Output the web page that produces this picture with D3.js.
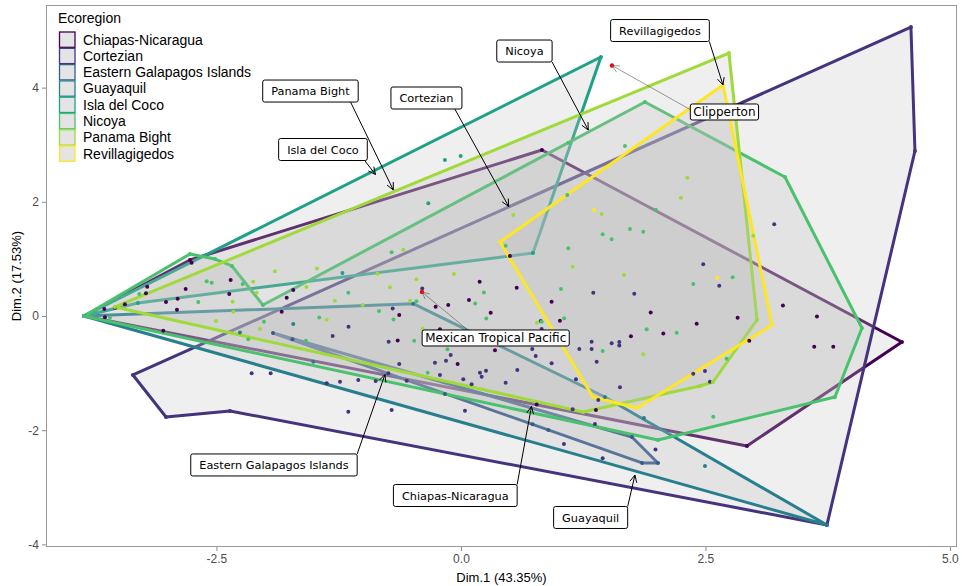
<!DOCTYPE html>
<html><head><meta charset="utf-8">
<script src="https://cdn.jsdelivr.net/npm/d3@7/dist/d3.min.js"></script>
<style>body{margin:0;background:#fff}</style>
</head><body>
<svg id="chart" width="962" height="586"></svg>
<script>
// Ecoregions (factor order) and their viridis colours
const ecoregions = ["Chiapas-Nicaragua","Cortezian","Eastern Galapagos Islands","Guayaquil","Isla del Coco","Nicoya","Panama Bight","Revillagigedos"];
const ecoColors  = ["#440154","#46337E","#365C8D","#277F8E","#1FA187","#4AC16D","#9FDA3A","#FDE725"];

// Hull outlines per ecoregion (Dim.1, Dim.2)
const hullChiapas   = [[-3.855,0],[-2.771,0.981],[0.828,2.907],[4.509,-0.455],[2.924,-2.277]];
const hullCortezian = [[-3.354,-1.033],[-3.016,-1.769],[-2.362,-1.664],[3.742,-3.660],[4.642,2.890],[4.601,5.061]];
const hullEGalapagos= [[-1.922,-0.298],[1.748,-2.119],[2.014,-2.574],[1.851,-2.574]];
const hullGuayaquil = [[-3.855,0],[-0.489,0.215],[1.472,-1.419],[3.742,-3.660]];
const hullCoco      = [[-3.855,0],[1.431,4.536],[0.736,1.103],[-3.303,0.228]];
const hullNicoya    = [[-3.855,0],[-2.771,1.086],[-2.515,0.998],[-2.342,0.876],[-2.025,0.193],[1.881,3.748],[3.313,2.434],[4.100,-0.210],[3.824,-1.419],[2.014,-2.172]];
const hullPanama    = [[-3.538,0.158],[2.740,4.606],[3.027,-0.070],[2.577,-1.156],[2.444,-1.226],[1.247,-1.681]];
const hullRevilla   = [[0.399,1.296],[2.679,4.046],[3.180,-0.158],[1.800,-1.611],[1.350,-1.419]];

// Individual sites per ecoregion (Dim.1, Dim.2)
const ptsChiapas = [[-3.855,0],[-2.771,0.981],[0.828,2.907],[4.509,-0.455],[2.924,-2.277],
 [-3.647,0.123],[-3.538,0.145],[-3.436,0.205],[-3.640,-0.023],[-3.208,0.513],[-3.221,0.398],[-2.754,0.933],[-2.815,0.473],
 [-3.016,0.245],[-2.897,0.303],[-2.904,0.110],[-2.355,0.630],[-2.369,0.385],[-3.044,-0.257],[-1.715,0.455],[-1.782,0.320],
 [-1.833,0.075],[-0.631,0.018],[-0.647,-0.429],[0.191,0.601],[0.082,0.280],[-0.130,0.193],[-0.259,0.163],[0.304,0.058],
 [0.348,-0.601],[0.501,1.051],[0.570,0.496],[0.927,0.250],[1.012,-0.082],[-0.215,-0.233],[-0.034,-0.841],[1.940,0.061],
 [3.292,0.184],[3.640,-0.009],[2.829,-0.030],[2.410,-0.137],[2.069,-0.306],[1.738,-0.356],[3.612,-0.538],[3.807,-0.538],
 [2.948,-0.433],[1.380,-1.646],[0.774,-1.550]];
const ptsCortezian = [[-3.354,-1.033],[-3.016,-1.769],[-2.362,-1.664],[3.742,-3.660],[4.642,2.890],[4.601,5.061],
 [-0.396,0.482],[1.353,0.408],[1.541,-0.478],[1.619,-0.517],[1.619,-0.455],[1.336,-0.450],[1.336,-0.578],[1.210,-0.578],
 [0.815,-0.088],[0.825,-0.228],[0.729,-0.578],[0.764,-0.701],[-0.739,-0.450],[-1.150,-0.187],[-1.312,-0.350],[-0.698,0.131],
 [3.203,1.606],[2.477,0.905],[2.641,0.531],[1.772,0.391],[2.375,-1.011],[2.495,-0.963],[2.546,-1.151],[1.626,-1.249],
 [1.989,-2.338],[1.449,-2.492],[-2.140,-1.003],[-1.946,-1.003],[-1.373,-1.179],[-1.237,-1.151],[-1.152,-1.676],[-1.050,-1.121],
 [-0.872,-1.138],[-0.743,-1.003],[-0.709,-1.646],[-0.555,-1.133],[-0.631,-0.841],[-0.266,-0.818],[-0.215,-1.033],[-0.153,-0.783],
 [-0.105,-0.683],[0.024,-1.109],[0.109,-1.196],[0.194,-0.993],[0.212,-1.063],[0.256,-0.958],[0.457,-1.168],[0.576,-0.946],
 [0.041,-1.658],[0.927,-0.828],[1.388,-0.800],[1.176,-1.109],[1.404,-1.471],[1.370,-1.891],[1.142,-1.634],[1.053,-2.242]];
const ptsEGalapagos = [[-1.922,-0.298],[1.748,-2.119],[2.014,-2.574],[1.851,-2.574],
 [-1.723,-0.406],[-0.164,-1.366],[0.733,-1.897],[0.893,-1.997]];
const ptsGuayaquil = [[-3.855,0],[-0.489,0.215],[1.472,-1.419],[3.742,-3.660],
 [-1.715,-0.140],[-1.510,-0.800],[1.871,-1.786],[2.495,-2.627],[-2.260,-0.289]];
const ptsCoco = [[-3.855,0],[1.431,4.536],[0.736,1.103],[-3.303,0.228],
 [-0.164,2.732],[-0.003,2.802],[-0.334,1.974],[-1.212,0.753]];
const ptsNicoya = [[-3.855,0],[-2.771,1.086],[-2.515,0.998],[-2.342,0.876],[-2.025,0.193],[1.881,3.748],[3.313,2.434],
 [4.100,-0.210],[3.824,-1.419],[2.014,-2.172],[-3.589,-0.030],
 [-3.290,0.385],[-2.686,0.245],[-2.600,0.608],[-2.549,0.583],[-2.232,0.560],[-2.014,-0.100],[-1.152,0.406],[-1.449,-0.026],
 [-2.175,-0.408],[-1.585,-0.434],[-0.709,1.116],[-0.838,0.088],[-0.690,-0.061],[-0.478,-0.433],[-0.138,-0.581],[-0.340,-0.993],
 [0.146,0.219],[0.235,0.412],[0.259,-0.044],[0.457,1.231],[1.097,3.035],[1.087,2.119],[1.449,1.431],[1.541,1.343],
 [1.097,1.186],[1.023,0.473],[1.449,-0.613],[0.825,-0.100],[1.056,-0.040],[1.677,2.977],[1.994,1.856],[1.728,1.524],
 [1.864,1.476],[2.778,0.678],[2.375,0.560],[2.206,-0.292],[1.899,-0.231],[2.717,-0.750],[2.580,-1.764],[-0.455,0.257]];
const ptsPanama = [[-3.538,0.158],[2.740,4.606],[3.027,-0.070],[2.577,-1.156],[2.444,-1.226],[1.247,-1.681],
 [-2.334,0.250],[-2.328,0.075],[-2.124,0.601],[-2.089,0.408],[-2.505,-0.088],[-1.472,0.832],[-1.902,0.785],[-1.580,0.508],
 [-1.290,0.268],[-1.373,-0.065],[-2.055,-0.228],[-0.854,0.739],[-0.590,1.161],[-0.455,0.643],[-0.072,0.736],[-0.726,0.503],
 [-1.005,0.193],[-0.521,0.268],[-0.392,-0.228],[0.535,1.769],[1.439,1.786],[1.142,0.863],[0.777,-0.117],[2.314,2.422],
 [2.249,2.072],[1.667,0.718],[1.864,-0.669],[2.989,1.406]];
const ptsRevilla = [[0.399,1.296],[2.679,4.046],[3.180,-0.158],[1.800,-1.611],[1.350,-1.419],[1.360,1.856],[2.621,0.671]];

// Highlighted sites
const siteNames  = ["Mexican Tropical Pacific","Clipperton"];
const sitePoints = [[-0.399,0.420],[1.544,4.387]];
const siteBoxes  = [[0.355,-0.385],[2.694,3.573]];      // label centres
const siteAnchor = [[0.31,0],[0,0.35]];                 // segment start on label box (fraction)

// Ecoregion hull labels: text, arrow tip, label centre, segment start on box
const hullLabelText   = ["Revillagigedos","Nicoya","Panama Bight","Cortezian","Isla del Coco","Eastern Galapagos Islands","Chiapas-Nicaragua","Guayaquil"];
const hullLabelTarget = [[2.679,4.046],[1.302,3.257],[-0.692,2.207],[0.488,1.918],[-0.874,2.478],[-0.777,-1.025],[0.721,-1.585],[1.779,-2.785]];
const hullLabelBox    = [[2.035,5.000],[0.649,4.641],[-1.539,3.940],[-0.353,3.818],[-1.411,2.916],[-1.912,-2.609],[-0.058,-3.144],[1.326,-3.529]];
const hullLabelAnchor = [[1,1],[1,1],[0.92,1],[0.9,1],[0.97,1],[1,0],[1,0],[1,0]];

const xTicks = [-2.5,0,2.5,5];
const yTicks = [-4,-2,0,2,4];

const hulls  = [hullChiapas,hullCortezian,hullEGalapagos,hullGuayaquil,hullCoco,hullNicoya,hullPanama,hullRevilla];
const points = [ptsChiapas,ptsCortezian,ptsEGalapagos,ptsGuayaquil,ptsCoco,ptsNicoya,ptsPanama,ptsRevilla];

const svg = d3.select("#chart");
const L = 46, R = 957, T = 5, B = 547;
const x = d3.scaleLinear().domain([-4.243,5.072]).range([L,R]);
const y = d3.scaleLinear().domain([-4.046,5.447]).range([B,T]);
const hyph = s => s.replace("\u2212","-");

// panel
svg.append("rect").attr("x",L).attr("y",T).attr("width",R-L).attr("height",B-T)
  .attr("fill","#fff");

// hulls, in factor order so later fills veil earlier outlines
const gH = svg.append("g");
hulls.forEach((h,i)=>{
  gH.append("path")
    .attr("d", d3.line().x(d=>x(d[0])).y(d=>y(d[1]))(h)+"Z")
    .attr("fill","#bebebe").attr("fill-opacity",0.25)
    .attr("stroke",ecoColors[i]).attr("stroke-width",3)
    .attr("stroke-linejoin","round");
});

// sites
const gP = svg.append("g");
points.forEach((pts,i)=>{
  gP.selectAll(null).data(pts).enter().append("circle")
    .attr("cx",d=>x(d[0])).attr("cy",d=>y(d[1])).attr("r",2)
    .attr("fill",ecoColors[i]);
});
gP.selectAll(null).data(sitePoints).enter().append("circle")
  .attr("cx",d=>x(d[0])).attr("cy",d=>y(d[1])).attr("r",2.2).attr("fill","#ff0000");

// panel border
svg.append("rect").attr("x",L+0.5).attr("y",T+0.5).attr("width",R-L-1).attr("height",B-T-1)
  .attr("fill","none").attr("stroke","#9a9a9a").attr("stroke-width",1);

// axes
const xAxis = svg.append("g").attr("transform",`translate(0,${B})`)
  .call(d3.axisBottom(x).tickValues(xTicks).tickSize(4).tickPadding(3).tickFormat(d=>hyph(d3.format(".1f")(d))));
const yAxis = svg.append("g").attr("transform",`translate(${L},0)`)
  .call(d3.axisLeft(y).tickValues(yTicks).tickSize(4).tickPadding(3).tickFormat(d=>hyph(d3.format("d")(d))));
[xAxis,yAxis].forEach(a=>{
  a.select(".domain").remove();
  a.selectAll("line").attr("stroke","#8a8a8a");
  a.selectAll("text").attr("fill","#4d4d4d").style("font-family","Liberation Sans, Arial, sans-serif").style("font-size","12px");
});
svg.append("text").attr("x",(L+R)/2).attr("y",582).attr("text-anchor","middle")
  .style("font-family","Liberation Sans, Arial, sans-serif").style("font-size","13px").text("Dim.1 (43.35%)");
svg.append("text").attr("transform",`translate(21,${(T+B)/2}) rotate(-90)`).attr("text-anchor","middle")
  .style("font-family","Liberation Sans, Arial, sans-serif").style("font-size","13px").text("Dim.2 (17.53%)");

// legend
const gL = svg.append("g").style("font-family","Liberation Sans, Arial, sans-serif").style("font-size","14px");
gL.append("text").attr("x",58).attr("y",23).text("Ecoregion");
ecoregions.forEach((name,i)=>{
  const yy = 32 + i*16.3;
  gL.append("rect").attr("x",59.5).attr("y",yy).attr("width",15.5).attr("height",15.3)
    .attr("fill","#e4e4e4").attr("stroke",ecoColors[i]).attr("stroke-width",1.3);
  gL.append("text").attr("x",83).attr("y",yy+12.5).text(name);
});

// labels with leader arrows
function arrowHead(g, tip, from, color, width){
  const ang = Math.atan2(tip[1]-from[1], tip[0]-from[0]);
  const len = 8, spread = Math.PI/7;
  const p1 = [tip[0]-len*Math.cos(ang-spread), tip[1]-len*Math.sin(ang-spread)];
  const p2 = [tip[0]-len*Math.cos(ang+spread), tip[1]-len*Math.sin(ang+spread)];
  g.append("path").attr("d",`M${p1}L${tip}L${p2}`).attr("fill","none")
    .attr("stroke",color).attr("stroke-width",width);
}
function drawLabel(text, target, centre, anchor, opt){
  const g = svg.append("g");
  const t = g.append("text").attr("text-anchor","middle")
    .style("font-family","DejaVu Sans, sans-serif").style("font-size",opt.size+"px").text(text);
  const w = t.node().getComputedTextLength() + 2*opt.padX, h = opt.h;
  const cx = x(centre[0]), cy = y(centre[1]);
  const bx = cx - w/2, by = cy - h/2;
  const start = [bx + anchor[0]*w, by + anchor[1]*h];
  const tip = [x(target[0]), y(target[1])];
  g.insert("line","text").attr("x1",start[0]).attr("y1",start[1]).attr("x2",tip[0]).attr("y2",tip[1])
    .attr("stroke",opt.line).attr("stroke-width",opt.lw);
  arrowHead(g, tip, start, opt.line, opt.lw);
  g.append("rect").attr("x",bx).attr("y",by).attr("width",w).attr("height",h).attr("rx",2)
    .attr("fill","#fff").attr("stroke","#000").attr("stroke-width",1);
  t.raise().attr("x",cx).attr("y",cy+opt.size*0.36);
}
hullLabelText.forEach((s,i)=>drawLabel(s, hullLabelTarget[i], hullLabelBox[i], hullLabelAnchor[i],
  {size:11.3, padX:8.5, h:22, line:"#000", lw:1}));
siteNames.forEach((s,i)=>drawLabel(s, sitePoints[i], siteBoxes[i], siteAnchor[i],
  {size:12, padX:3, h:16, line:"#555", lw:0.6}));
</script>
</body></html>
